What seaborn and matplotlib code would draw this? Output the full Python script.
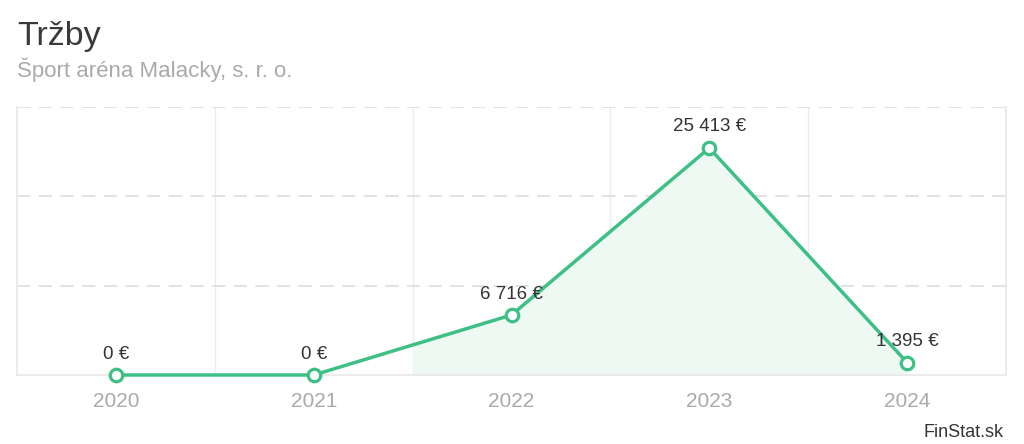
import numpy as np
import pandas as pd
import matplotlib
matplotlib.use("Agg")
import matplotlib.pyplot as plt
import seaborn as sns

years = ["2020", "2021", "2022", "2023", "2024"]
trzby = [0, 0, 6716, 25413, 1395]
labels = ["0 €", "0 €", "6 716 €", "25 413 €", "1 395 €"]

sns.set_style("white")
plt.rcParams["font.family"] = ["Liberation Sans", "DejaVu Sans"]

green = "#3dbf85"
df = pd.DataFrame({"idx": np.arange(len(years)), "val": trzby})

fig = plt.figure(figsize=(10.24, 4.44), dpi=100)
ax = fig.add_axes([17 / 1024, 1 - 375 / 444, 989 / 1024, 268 / 444])

# svetla vypln pod ciarou (od 2021/2022)
fx = np.concatenate([[1.5], df["idx"].values[2:]])
fy = np.concatenate([[(trzby[1] + trzby[2]) / 2], df["val"].values[2:]])
ax.fill_between(fx, fy, 0, color="#eef9f4", zorder=1, lw=0)

sns.lineplot(data=df, x="idx", y="val", ax=ax, color=green, lw=2.5,
             marker="o", markersize=9, markerfacecolor="white",
             markeredgecolor=green, markeredgewidth=2.3, zorder=5, clip_on=False)

for i, (v, t) in enumerate(zip(trzby, labels)):
    ax.annotate(t, (i, v), xytext=(0, 9), textcoords="offset points",
                ha="center", va="bottom", fontsize=13.5, color="#333333", zorder=6)

ax.set_xlim(-0.5, 4.5)
ax.set_ylim(0, 30000)
ax.set_xticks(range(len(years)))
ax.set_xticklabels(years)
ax.set_yticks([])
ax.set_xlabel("")
ax.set_ylabel("")
ax.tick_params(axis="x", length=0, pad=12, labelsize=15, labelcolor="#aaaaaa")

for b in np.arange(0.5, 4.5, 1.0):
    ax.axvline(b, color="#ececec", lw=1, zorder=0)
for g in [10000, 20000, 30000]:
    ax.axhline(g, color="#dddddd", lw=1.2, ls=(0, (8, 5)), zorder=0)

for s in ["left", "right", "bottom"]:
    ax.spines[s].set_color("#e8e8e8")
    ax.spines[s].set_linewidth(1.2)
ax.spines["top"].set_visible(False)

fig.text(17 / 1024, 1 - 45 / 444, "Tržby", fontsize=24.5, color="#3a3a3a", ha="left", va="baseline")
fig.text(17 / 1024, 1 - 77 / 444, "Šport aréna Malacky, s. r. o.", fontsize=16,
         color="#aaaaaa", ha="left", va="baseline")
fig.text(1004 / 1024, 1 - 437 / 444, "FinStat.sk", fontsize=13, color="#333333",
         ha="right", va="baseline")

fig.savefig("out.png", dpi=100)
